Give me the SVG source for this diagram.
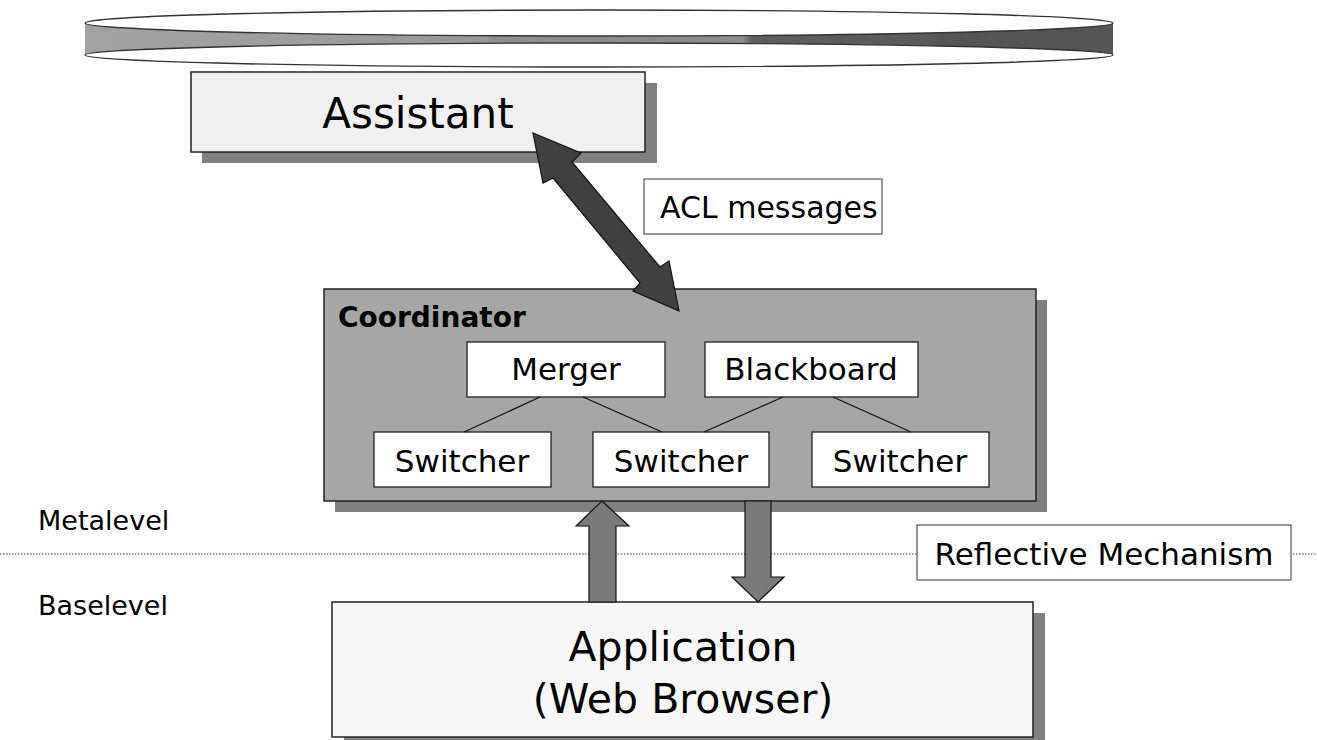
<svg xmlns="http://www.w3.org/2000/svg" width="1317" height="740" viewBox="0 0 1317 740">
  <style>
    text { font-family: "DejaVu Sans", "Liberation Sans", sans-serif; fill: #000; }
    .box { stroke: #222; stroke-width: 1.5; }
    .shadow { fill: #808080; }
    .sub { fill: #fff; stroke: #222; stroke-width: 1.3; }
    .label { fill: #fff; stroke: #555; stroke-width: 1.2; }
    .link { stroke: #111; stroke-width: 1.2; fill: none; }
    .mid { font-size: 31px; }
  </style>
  <defs>
    <linearGradient id="bandFill" x1="85" y1="0" x2="1113" y2="0" gradientUnits="userSpaceOnUse">
      <stop offset="0" stop-color="#a2a2a2"/>
      <stop offset="0.2" stop-color="#9e9e9e"/>
      <stop offset="0.39" stop-color="#979797"/>
      <stop offset="0.4" stop-color="#8f8f8f"/>
      <stop offset="0.64" stop-color="#8c8c8c"/>
      <stop offset="0.65" stop-color="#5e5e5e"/>
      <stop offset="0.82" stop-color="#5a5a5a"/>
      <stop offset="0.83" stop-color="#555"/>
      <stop offset="1" stop-color="#555"/>
    </linearGradient>
  </defs>
  <rect width="1317" height="740" fill="#fff"/>

  <!-- flat disc across the top -->
  <g id="disc">
    <path d="M85,23 A514,13 0 0 0 1113,23 L1113,55 A514,12 0 0 0 85,55 Z" fill="url(#bandFill)"/>
    <ellipse cx="599" cy="23" rx="514" ry="13" fill="none" stroke="#333" stroke-width="1.4"/>
    <ellipse cx="599" cy="55" rx="514" ry="12" fill="none" stroke="#333" stroke-width="1.4"/>
  </g>

  <!-- level separator -->
  <line id="separator" x1="0" y1="554" x2="1317" y2="554" stroke="#444" stroke-width="1" stroke-dasharray="1.5 1.5"/>

  <g id="assistant">
    <rect class="shadow" x="202" y="83" width="455" height="80"/>
    <rect class="box" x="191" y="72" width="454" height="80" fill="#f0f0f0"/>
    <text x="418" y="128" font-size="42" text-anchor="middle">Assistant</text>
  </g>

  <g id="coordinator">
    <rect class="shadow" x="335" y="300" width="712" height="212"/>
    <rect class="box" x="324" y="289" width="712" height="212" fill="#a6a6a6"/>
    <text x="338" y="327" font-size="28" font-weight="bold">Coordinator</text>
  </g>

  <g id="merger">
    <rect class="sub" x="467" y="342" width="198" height="55"/>
    <text class="mid" x="566" y="380" text-anchor="middle">Merger</text>
  </g>
  <g id="blackboard">
    <rect class="sub" x="705" y="342" width="213" height="55"/>
    <text class="mid" x="811" y="380" text-anchor="middle">Blackboard</text>
  </g>
  <g id="switcher-1">
    <rect class="sub" x="374" y="432" width="177" height="55"/>
    <text class="mid" x="462" y="472" text-anchor="middle">Switcher</text>
  </g>
  <g id="switcher-2">
    <rect class="sub" x="593" y="432" width="176" height="55"/>
    <text class="mid" x="681" y="472" text-anchor="middle">Switcher</text>
  </g>
  <g id="switcher-3">
    <rect class="sub" x="812" y="432" width="177" height="55"/>
    <text class="mid" x="900" y="472" text-anchor="middle">Switcher</text>
  </g>

  <g id="application">
    <rect class="shadow" x="344" y="613" width="701" height="135"/>
    <rect class="box" x="332" y="602" width="701" height="135" fill="#f7f7f7"/>
    <text x="683" y="661" font-size="41" text-anchor="middle">Application</text>
    <text x="683" y="713" font-size="41" text-anchor="middle">(Web Browser)</text>
  </g>

  <g id="acl-label">
    <rect class="label" x="644" y="179" width="238" height="55"/>
    <text x="660" y="218" font-size="30">ACL messages</text>
  </g>

  <g id="reflective-label">
    <rect class="label" x="917" y="525" width="374" height="55"/>
    <text class="mid" x="1104" y="565" text-anchor="middle">Reflective Mechanism</text>
  </g>

  <g id="level-names">
    <text x="38" y="530" font-size="27">Metalevel</text>
    <text x="38" y="615" font-size="27">Baselevel</text>
  </g>

  <g id="connectors">
    <!-- Merger / Blackboard to switchers -->
    <line class="link" x1="540" y1="397" x2="464" y2="432"/>
    <line class="link" x1="583" y1="397" x2="662" y2="432"/>
    <line class="link" x1="783" y1="397" x2="704" y2="432"/>
    <line class="link" x1="833" y1="397" x2="911" y2="432"/>
    <!-- Assistant <-> Coordinator -->
    <polygon points="533,133 581,153 572,162 660,267 669,261 679,311 633,291 640,283 553,178 543,183" fill="#404040" stroke="#111" stroke-width="1.2" stroke-linejoin="miter"/>
    <!-- reflection up / down -->
    <polygon points="602,501 629,526 616,526 616,602 589,602 589,526 576,526" fill="#7a7a7a" stroke="#111" stroke-width="1.2"/>
    <polygon points="745,501 771,501 771,577 784,577 758,602 732,577 745,577" fill="#7a7a7a" stroke="#111" stroke-width="1.2"/>
  </g>
</svg>
